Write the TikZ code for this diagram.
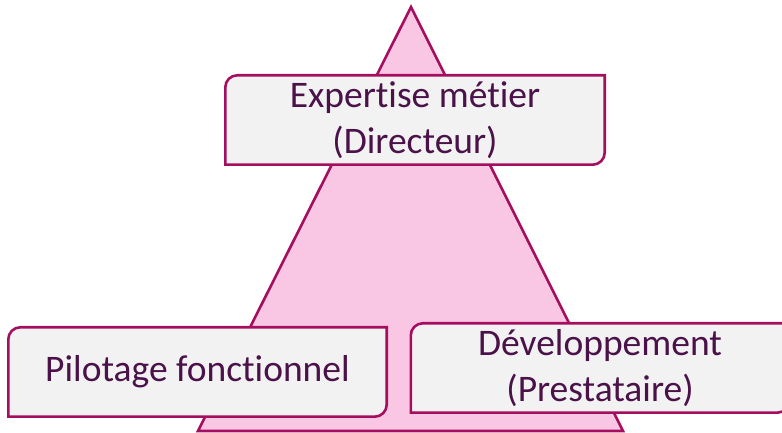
\documentclass[tikz,border=0pt]{standalone}
\usepackage{fontspec}
\setmainfont{Carlito}[Ligatures=NoCommon]
\usetikzlibrary{positioning, backgrounds}
\definecolor{PyrBorder}{RGB}{165,13,94}
\definecolor{PyrPink}{RGB}{249,199,227}
\definecolor{BoxGray}{RGB}{242,242,242}
\definecolor{TextPlum}{RGB}{74,18,72}
\pgfdeclarelayer{back}
\pgfsetlayers{back,background,main}
% box outline with two rounded corners (top left, bottom right)
\newcommand{\diagframe}[1]{%
	\draw[frame] (#1.south west) -- ([yshift=-12pt]#1.north west)
		arc[start angle=180, end angle=90, radius=12pt] -- (#1.north east)
		-- ([yshift=12pt]#1.south east)
		arc[start angle=0, end angle=-90, radius=12pt] -- cycle;}

\begin{document}
\begin{tikzpicture}[x=1pt, y=1pt,
	role/.style={rectangle, minimum height=89pt, inner sep=0pt, align=center,
		text=TextPlum, font=\fontsize{37.5}{46}\selectfont},
	frame/.style={draw=PyrBorder, line width=2.6pt, fill=BoxGray},
	pyr/.style={draw=PyrBorder, line width=2.6pt, fill=PyrPink}]

	\useasboundingbox (0,0) rectangle (782,433);

	\node[role, minimum width=379pt] (expert) at (415,313) {Expertise métier\\(Directeur)};
	\node[role, minimum width=378pt] (pilot) at (197.5,61) {Pilotage fonctionnel};
	\node[role, minimum width=378pt] (dev) at (600,65) {Développement\\(Prestataire)};

	\begin{pgfonlayer}{background}
		\diagframe{expert}
		\diagframe{pilot}
		\diagframe{dev}
	\end{pgfonlayer}

	\begin{pgfonlayer}{back}
		\draw[pyr] (198,2) -- (411,426) -- (623,2) -- cycle;
	\end{pgfonlayer}
\end{tikzpicture}
\end{document}
